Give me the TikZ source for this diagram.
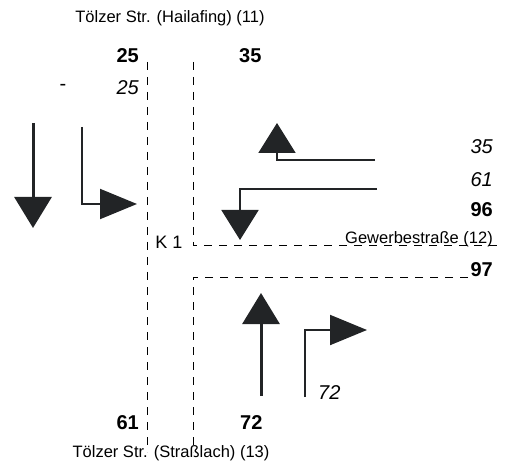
\documentclass[tikz,border=0pt]{standalone}
\usepackage{fontspec}
\setmainfont{Liberation Sans}
\usetikzlibrary{arrows.meta}
\definecolor{ink}{HTML}{222426}
\tikzset{
  road/.style={line width=1pt, dash pattern=on 8pt off 7pt, black},
  lbl/.style={font=\fontsize{16.5}{16.5}\selectfont, inner sep=0pt},
  cnt/.style={font=\fontsize{20}{20}\selectfont\bfseries, inner sep=0pt},
  cnti/.style={font=\fontsize{20}{20}\selectfont\itshape, inner sep=0pt},
  straight/.style={ink, line width=3pt, -{Triangle[width=37pt,length=31pt]}},
  turnv/.style={ink, line width=2pt, -{Triangle[width=37pt,length=30pt]}},
  turnh/.style={ink, line width=2pt, -{Triangle[width=30pt,length=37pt]}},
}
\begin{document}
\begin{tikzpicture}[x=1pt,y=-1pt]
\useasboundingbox (0,0) rectangle (511,470);

% street edges
\coordinate (wt) at (147,62);
\coordinate (wb) at (147,452);
\coordinate (et) at (193,62);
\coordinate (ec) at (193,246);
\coordinate (ee) at (497,246);
\coordinate (sc) at (193,277);
\coordinate (se) at (468,277);
\coordinate (sb) at (193,452);
\draw[road] (wt) -- (wb);
\draw[road] (et) -- (ec) -- (ee);
\draw[road] (se) -- (sc) -- (sb);

% labels
\node[lbl] (n11) at (170,18) {Tölzer Str. (Hailafing) (11)};
\node[lbl] (n13) at (171,453) {Tölzer Str. (Straßlach) (13)};
\node[lbl, anchor=east] (n12) at (493,239) {Gewerbestraße (12)};
\node[font=\fontsize{18}{18}\selectfont, inner sep=0pt] (k1) at (169,242) {K 1};

% counts
\node[cnt, anchor=east] (a25) at (139,56) {25};
\node[cnt, anchor=west] (a35) at (239,56) {35};
\node[lbl, font=\fontsize{20}{20}\selectfont] (dash) at (63,87) {-};
\node[cnti, anchor=east] (b25) at (139,88) {25};
\node[cnti, anchor=east] (b35) at (493,147) {35};
\node[cnti, anchor=east] (b61) at (493,180) {61};
\node[cnt, anchor=east] (a96) at (493,210) {96};
\node[cnt, anchor=east] (a97) at (493,270) {97};
\node[cnti, anchor=west] (b72) at (318,393) {72};
\node[cnt, anchor=east] (a61) at (139,423) {61};
\node[cnt, anchor=west] (a72) at (240,423) {72};

% traffic arrows from the north
\coordinate (n1s) at (33,123);
\coordinate (n1e) at (33,228);
\draw[straight] (n1s) -- (n1e);
\coordinate (n2s) at (82,127);
\coordinate (n2m) at (82,204);
\coordinate (n2e) at (137,204);
\draw[turnh] (n2s) -- (n2m) -- (n2e);

% traffic arrows from the east
\coordinate (e1s) at (375,160);
\coordinate (e1m) at (277,160);
\coordinate (e1e) at (277,123);
\draw[turnv] (e1s) -- (e1m) -- (e1e);
\coordinate (e2s) at (377,189);
\coordinate (e2m) at (240,189);
\coordinate (e2e) at (240,240);
\draw[turnv] (e2s) -- (e2m) -- (e2e);

% traffic arrows from the south
\coordinate (s1s) at (261,396);
\coordinate (s1e) at (261,293);
\draw[straight] (s1s) -- (s1e);
\coordinate (s2s) at (305,397);
\coordinate (s2m) at (305,330);
\coordinate (s2e) at (367,330);
\draw[turnh] (s2s) -- (s2m) -- (s2e);
\end{tikzpicture}
\end{document}
